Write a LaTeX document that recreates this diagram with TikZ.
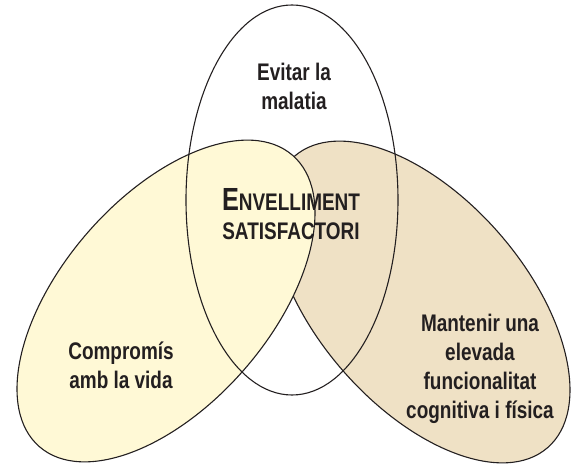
\documentclass[tikz,border=0pt]{standalone}
\usepackage{fontspec}
\setmainfont{Liberation Sans}[FakeStretch=0.79]
\definecolor{groc}{RGB}{255,249,214}
\definecolor{beix}{RGB}{239,225,197}
\definecolor{tinta}{RGB}{35,31,32}
\tikzset{
    vora/.style={draw=tinta, line width=0.55pt},
    etiqueta/.style={font=\bfseries\fontsize{12}{14.5}\selectfont, align=center, text=tinta}
}

\begin{document}
\begin{tikzpicture}[x=0.5pt, y=-0.5pt]
	\useasboundingbox (0,0) rectangle (580,470);

	\def\ra{193}
	\def\rb{104}
	\def\gir{49}

		% El·lipse dreta
		\draw[vora, fill=beix, rotate around={-\gir:(421,302)}]
    (421,302) ellipse [x radius=\ra, y radius=\rb];

		% El·lipse esquerra, per sobre
		\draw[vora, fill=groc, rotate around={\gir:(166,301)}]
    (166,301) ellipse [x radius=\ra, y radius=\rb];

		% El·lipse de dalt, només la vora
		\draw[vora] (292,200) ellipse [x radius=106, y radius=195];

		% Textos
		\node[etiqueta] (malaltia) at (294,86) {Evitar la\\malatia};
		\node[etiqueta] (envelliment) at (291,214)
    {{\fontsize{16}{14.5}\selectfont E}NVELLIMENT\\SATISFACTORI};
		\node[etiqueta] (compromis) at (121,365) {Compromís\\amb la vida};
		\node[etiqueta] (funcionalitat) at (480,369)
    {Mantenir una\\elevada\\funcionalitat\\cognitiva i física};

\end{tikzpicture}
\end{document}
